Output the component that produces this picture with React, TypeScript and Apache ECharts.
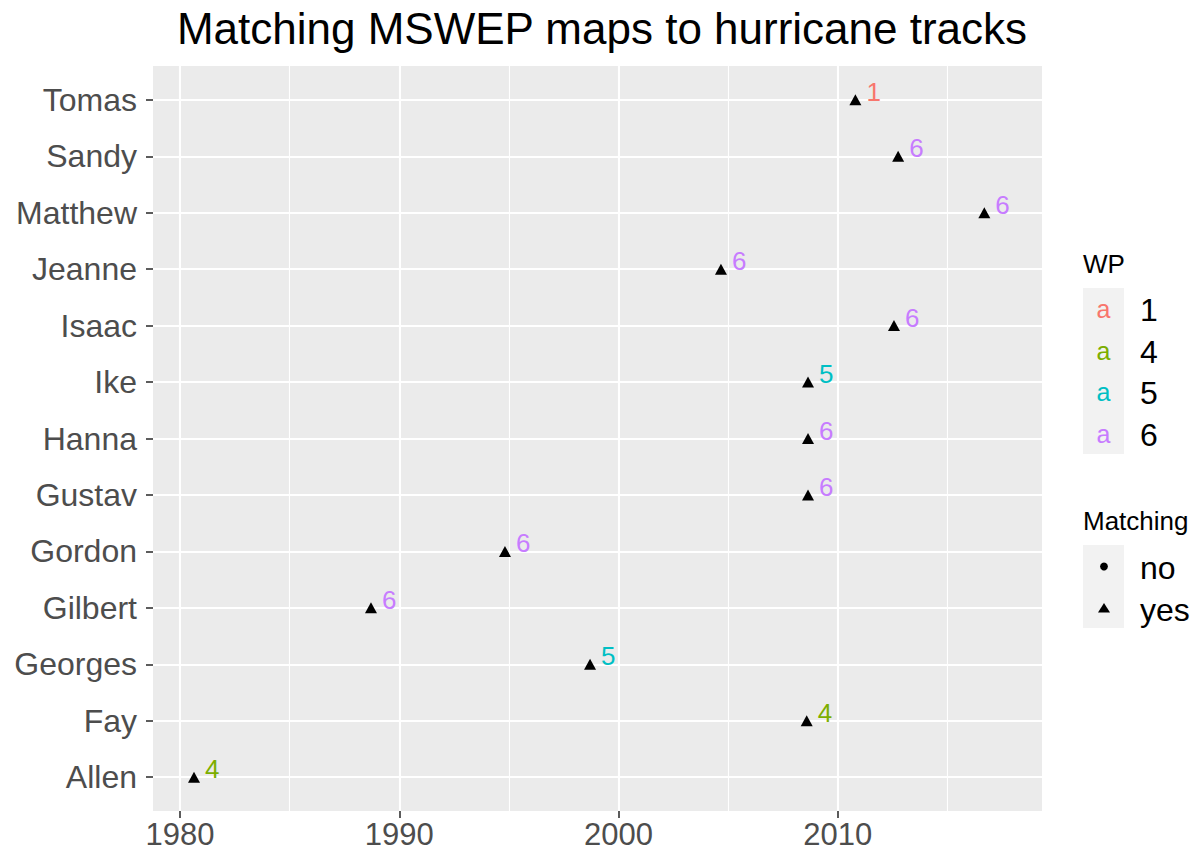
import React, { useEffect, useRef } from 'react';
import * as echarts from 'echarts';

// Hurricanes, bottom to top on the y axis
const hurricanes = ['Allen', 'Fay', 'Georges', 'Gilbert', 'Gordon', 'Gustav', 'Hanna', 'Ike', 'Isaac', 'Jeanne', 'Matthew', 'Sandy', 'Tomas'];
// Date of each hurricane as a fractional year
const dates = [1980.64, 2008.58, 1998.7, 1988.71, 1994.82, 2008.64, 2008.64, 2008.64, 2012.56, 2004.67, 2016.68, 2012.75, 2010.8];
// WP label of each hurricane
const wpValues = ['4', '4', '5', '6', '6', '6', '6', '5', '6', '6', '6', '6', '1'];
// Matching flag of each hurricane
const matchingValues = ['yes', 'yes', 'yes', 'yes', 'yes', 'yes', 'yes', 'yes', 'yes', 'yes', 'yes', 'yes', 'yes'];

const wpLevels = ['1', '4', '5', '6'];
const wpColors = ['#F8766D', '#7CAE00', '#00BFC4', '#C77CFF'];
const matchLevels = ['no', 'yes'];
const matchSymbols = ['circle', 'triangle'];

const xMajorTicks = [1980, 1990, 2000, 2010];
const xMinorTicks = [1985, 1995, 2005, 2015];
const xMin = 1978.77;
const xMax = 2019.31;

const FONT = '"Liberation Sans", Arial, Helvetica, sans-serif';

export default function App() {
  const ref = useRef<HTMLDivElement>(null);

  useEffect(() => {
    if (!ref.current) return;
    const chart = echarts.init(ref.current, undefined, { renderer: 'svg' });

    const yIdx = hurricanes.map((_, i) => i + 1);

    const data = hurricanes.map((name, i) => {
      const wi = wpLevels.indexOf(wpValues[i]);
      const mi = matchLevels.indexOf(matchingValues[i]);
      return {
        name,
        value: [dates[i], i + 1],
        wp: wpValues[i],
        symbol: matchSymbols[mi],
        label: { color: wpColors[wi] },
      };
    });

    const gridLines: any[] = [];
    xMajorTicks.forEach((v) => gridLines.push({ xAxis: v, lineStyle: { width: 2.1, color: '#FFFFFF', type: 'solid' } }));
    xMinorTicks.forEach((v) => gridLines.push({ xAxis: v, lineStyle: { width: 1.1, color: '#FFFFFF', type: 'solid' } }));
    yIdx.forEach((v) => gridLines.push({ yAxis: v, lineStyle: { width: 2.1, color: '#FFFFFF', type: 'solid' } }));

    const graphics: any[] = [];
    // WP legend
    graphics.push({
      type: 'text', x: 1083, y: 264,
      style: { text: 'WP', fill: '#000', font: `26px ${FONT}`, align: 'left', verticalAlign: 'middle' },
    });
    graphics.push({
      type: 'rect', shape: { x: 1083, y: 288, width: 41, height: 166 },
      style: { fill: '#F2F2F2' }, z: 0,
    });
    wpLevels.forEach((lv, i) => {
      const cy = 309 + 41.5 * i;
      graphics.push({
        type: 'text', x: 1103.5, y: cy, z: 2,
        style: { text: 'a', fill: wpColors[i], font: `25px ${FONT}`, align: 'center', verticalAlign: 'middle' },
      });
      graphics.push({
        type: 'text', x: 1140, y: cy + 1,
        style: { text: lv, fill: '#000', font: `32px ${FONT}`, align: 'left', verticalAlign: 'middle' },
      });
    });
    // Matching legend
    graphics.push({
      type: 'text', x: 1083, y: 521,
      style: { text: 'Matching', fill: '#000', font: `26px ${FONT}`, align: 'left', verticalAlign: 'middle' },
    });
    graphics.push({
      type: 'rect', shape: { x: 1083, y: 545, width: 41, height: 83 },
      style: { fill: '#F2F2F2' }, z: 0,
    });
    graphics.push({
      type: 'circle', shape: { cx: 1104, cy: 566.5, r: 3.9 }, style: { fill: '#000' }, z: 2,
    });
    graphics.push({
      type: 'polygon', shape: { points: [[1098, 612.5], [1110, 612.5], [1104, 603]] }, style: { fill: '#000' }, z: 2,
    });
    matchLevels.forEach((lv, i) => {
      graphics.push({
        type: 'text', x: 1140, y: 568 + 42 * i,
        style: { text: lv, fill: '#000', font: `32px ${FONT}`, align: 'left', verticalAlign: 'middle' },
      });
    });

    chart.setOption({
      animation: false,
      backgroundColor: '#FFFFFF',
      title: {
        text: 'Matching MSWEP maps to hurricane tracks',
        left: 597,
        top: 1,
        textAlign: 'center',
        textStyle: { fontFamily: FONT, fontSize: 44, fontWeight: 'normal', color: '#000' },
      },
      grid: {
        left: 153, right: 152, top: 66, bottom: 41,
        show: true, backgroundColor: '#EBEBEB', borderWidth: 0,
      },
      xAxis: {
        type: 'value',
        min: xMin,
        max: xMax,
        axisLine: { show: false },
        splitLine: { show: false },
        axisTick: { show: true, customValues: xMajorTicks, length: 7, lineStyle: { color: '#333333', width: 1.6 } },
        axisLabel: {
          customValues: xMajorTicks,
          color: '#4D4D4D', fontSize: 31, lineHeight: 24, fontFamily: FONT, margin: 11,
          formatter: (v: number) => String(v),
        },
      },
      yAxis: {
        type: 'value',
        min: 0.4,
        max: 13.6,
        axisLine: { show: false },
        splitLine: { show: false },
        axisTick: { show: true, customValues: yIdx, length: 7, lineStyle: { color: '#333333', width: 1.6 } },
        axisLabel: {
          customValues: yIdx,
          color: '#4D4D4D', fontSize: 32, fontFamily: FONT, margin: 16,
          formatter: (v: number) => hurricanes[Math.round(v) - 1] ?? '',
        },
      },
      series: [
        {
          type: 'line',
          name: 'grid',
          data: [],
          z: 1,
          silent: true,
          markLine: {
            silent: true,
            symbol: ['none', 'none'],
            label: { show: false },
            z: 1,
            animation: false,
            data: gridLines,
          },
        },
        {
          type: 'scatter',
          name: 'points',
          z: 5,
          symbolSize: [12, 11],
          itemStyle: { color: '#000000', opacity: 1 },
          emphasis: { disabled: true },
          label: {
            show: true,
            position: 'right',
            distance: 5,
            offset: [0, -8],
            fontSize: 26,
            fontFamily: FONT,
            opacity: 1,
            formatter: (p: any) => p.data.wp,
          },
          data,
        },
      ],
      graphic: graphics,
    });

    return () => chart.dispose();
  }, []);

  return (
    <div
      ref={ref}
      style={{ position: 'fixed', left: 0, top: 0, width: 1194, height: 852 }}
    />
  );
}
